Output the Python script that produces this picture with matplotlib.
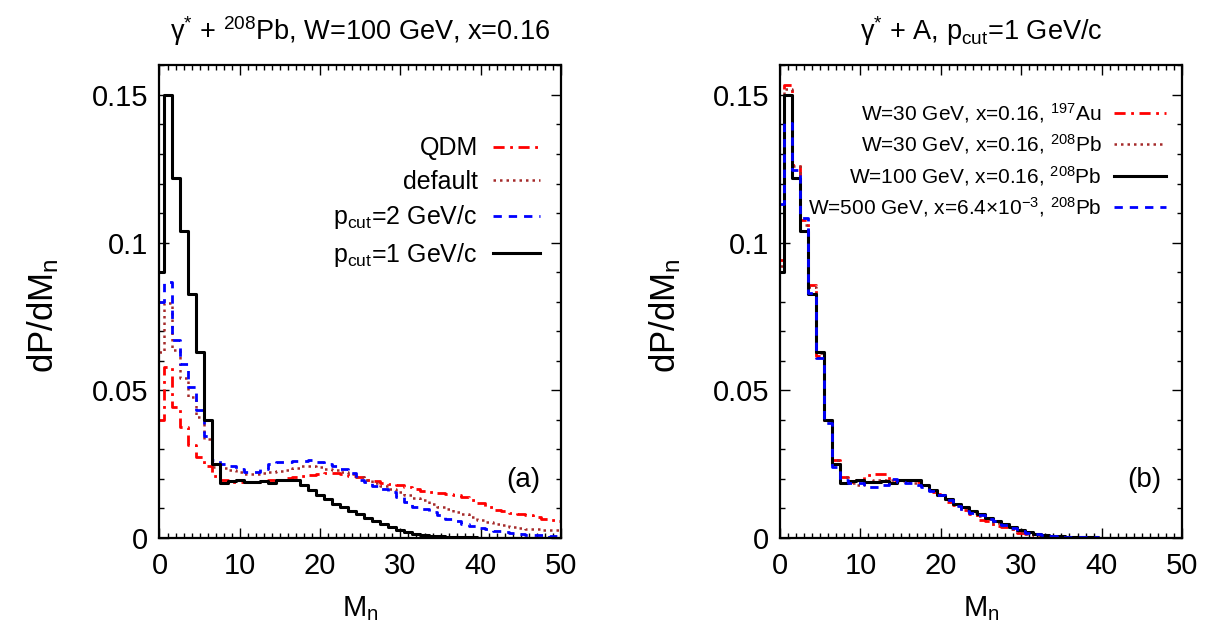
import numpy as np
import matplotlib
matplotlib.use("Agg")
import matplotlib.pyplot as plt
from matplotlib.ticker import MultipleLocator

plt.rcParams['font.family'] = ['Liberation Sans', 'DejaVu Sans']
plt.rcParams['mathtext.fontset'] = 'custom'
plt.rcParams['mathtext.rm'] = 'Liberation Sans'
plt.rcParams['mathtext.it'] = 'Liberation Sans'
plt.rcParams['mathtext.default'] = 'rm'

# neutron multiplicity M_n = 0..50
mn = np.arange(51)

# panel (a): gamma* + 208Pb, W=100 GeV, x=0.16
qdm = [0.040, 0.058, 0.0445, 0.0377, 0.0315, 0.0275, 0.0245, 0.021, 0.0197, 0.019,
       0.019, 0.019, 0.019, 0.0192, 0.0195, 0.0198, 0.0202, 0.0206, 0.021, 0.0213,
       0.0218, 0.022, 0.022, 0.0218, 0.021, 0.0205, 0.0198, 0.0192, 0.0187, 0.0183,
       0.018, 0.0172, 0.0165, 0.016, 0.0155, 0.0152, 0.015, 0.0145, 0.014, 0.0128,
       0.012, 0.0105, 0.0096, 0.009, 0.0085, 0.0082, 0.0078, 0.0072, 0.0065, 0.006, 0.0058]
default = [0.063, 0.0795, 0.0636, 0.054, 0.0478, 0.041, 0.0335, 0.0241, 0.0238, 0.023,
           0.0225, 0.0216, 0.0218, 0.022, 0.0224, 0.0226, 0.023, 0.0237, 0.0243, 0.0244,
           0.0241, 0.0235, 0.023, 0.0222, 0.0215, 0.0207, 0.0198, 0.0187, 0.0175, 0.0165,
           0.0155, 0.0145, 0.0135, 0.0127, 0.0115, 0.0106, 0.0097, 0.0088, 0.008, 0.0072,
           0.0062, 0.0055, 0.0049, 0.0045, 0.0038, 0.0034, 0.0031, 0.003, 0.0028, 0.0027, 0.0026]
pcut2 = [0.080, 0.0865, 0.067, 0.059, 0.0512, 0.0433, 0.0345, 0.0264, 0.0250, 0.0245,
         0.0232, 0.0225, 0.0225, 0.0233, 0.0250, 0.0256, 0.0258, 0.026, 0.0262, 0.0264,
         0.0258, 0.0252, 0.0245, 0.0232, 0.0219, 0.0198, 0.0188, 0.0175, 0.0165, 0.0155,
         0.014, 0.0122, 0.0106, 0.0098, 0.0088, 0.0078, 0.0066, 0.0057, 0.0046, 0.004,
         0.0033, 0.0029, 0.0025, 0.0021, 0.0016, 0.0012, 0.0011, 0.001, 0.0009, 0.0008, 0.0008]
pcut1 = [0.090, 0.150, 0.122, 0.104, 0.0825, 0.063, 0.040, 0.025, 0.0187, 0.0192,
         0.0197, 0.0188, 0.0190, 0.0192, 0.0187, 0.0198, 0.0195, 0.0196, 0.0179, 0.0163,
         0.0147, 0.0131, 0.0116, 0.0104, 0.0092, 0.0082, 0.0069, 0.0057, 0.0046, 0.0036,
         0.0027, 0.0019, 0.0014, 0.0011, 0.0008, 0.0006, 0.0004, 0.0003, 0.0002, 0.0002,
         0.0001, 0.0001, 0.0001, 0.0001, 0.0, 0.0, 0.0, 0.0, 0.0, 0.0, 0.0]

# panel (b): gamma* + A, p_cut=1 GeV/c
au_w30 = [0.094, 0.1533, 0.1263, 0.1077, 0.0857, 0.0616, 0.040, 0.0264, 0.0205, 0.019,
          0.0195, 0.0212, 0.0217, 0.0216, 0.0198, 0.0196, 0.0195, 0.019, 0.018, 0.0157,
          0.015, 0.0123, 0.0112, 0.0095, 0.0080, 0.0062, 0.0058, 0.0040, 0.0037, 0.0030,
          0.0018, 0.0014, 0.001, 0.0007, 0.0005, 0.0004, 0.0003, 0.0002, 0.0002, 0.0001,
          0.0001, 0.0001, 0.0, 0.0, 0.0, 0.0, 0.0, 0.0, 0.0, 0.0, 0.0]
pb_w30 = [0.092, 0.152, 0.126, 0.106, 0.085, 0.0625, 0.040, 0.0265, 0.0205, 0.0185,
          0.018, 0.019, 0.0198, 0.0198, 0.0195, 0.0193, 0.019, 0.0186, 0.018, 0.016,
          0.0145, 0.013, 0.0113, 0.0098, 0.0086, 0.0075, 0.0063, 0.0052, 0.004, 0.003,
          0.0022, 0.0015, 0.0011, 0.0008, 0.0006, 0.0004, 0.0003, 0.0002, 0.0002, 0.0001,
          0.0001, 0.0001, 0.0, 0.0, 0.0, 0.0, 0.0, 0.0, 0.0, 0.0, 0.0]
pb_w100 = pcut1
pb_w500 = [0.113, 0.1405, 0.1246, 0.1083, 0.083, 0.061, 0.039, 0.024, 0.0196, 0.0185,
           0.0185, 0.0174, 0.0174, 0.018, 0.0199, 0.019, 0.0185, 0.018, 0.0174, 0.016,
           0.0146, 0.0129, 0.011, 0.0091, 0.0085, 0.0078, 0.0066, 0.0058, 0.0045, 0.0033,
           0.0025, 0.0018, 0.0013, 0.0009, 0.0007, 0.0005, 0.0004, 0.0003, 0.0002, 0.0002,
           0.0001, 0.0001, 0.0001, 0.0, 0.0, 0.0, 0.0, 0.0, 0.0, 0.0, 0.0]

labels_a = ['QDM', 'default', r'p$_{cut}$=2 GeV/c', r'p$_{cut}$=1 GeV/c']
labels_b = [r'W=30 GeV, x=0.16, $^{197}$Au', r'W=30 GeV, x=0.16, $^{208}$Pb',
            r'W=100 GeV, x=0.16, $^{208}$Pb', r'W=500 GeV, x=6.4×10$^{-3}$, $^{208}$Pb']

yticks = [0, 0.05, 0.1, 0.15]
yticklabels = ['0', '0.05', '0.1', '0.15']
xticks = [0, 10, 20, 30, 40, 50]

red = dict(color='#ff0000', lw=2.0, dashes=(4, 2, 1, 2))
brown = dict(color='#a52a2a', lw=1.8, dashes=(1, 1.6))
blue = dict(color='#0000ff', lw=2.0, dashes=(3, 2.5))
black = dict(color='black', lw=2.2)

fig = plt.figure(figsize=(12.12, 6.25), dpi=100)
ax1 = fig.add_axes([0.1316, 0.1392, 0.3313, 0.7562])
ax2 = fig.add_axes([0.6436, 0.1392, 0.3317, 0.7562])


def setup(ax, title, ylab_x):
    ax.set_xlim(0, 50)
    ax.set_ylim(0, 0.16)
    ax.set_xticks(xticks)
    ax.set_yticks(yticks, yticklabels)
    ax.xaxis.set_minor_locator(MultipleLocator(1))
    ax.yaxis.set_minor_locator(MultipleLocator(0.01))
    ax.tick_params(which='both', direction='in', top=True, right=True, labelsize=21)
    ax.tick_params(which='major', length=7, width=1.0)
    ax.tick_params(axis='x', which='major', pad=10)
    ax.tick_params(axis='y', which='major', pad=8)
    ax.tick_params(which='minor', length=3.5, width=1.0)
    for s in ax.spines.values():
        s.set_linewidth(1.6)
    ax.set_xlabel(r'M$_n$', fontsize=21, labelpad=10)
    ax.set_ylabel(r'dP/dM$_n$', fontsize=25, va='center')
    ax.yaxis.set_label_coords(ylab_x, 0.47)
    ax.set_title(title, fontsize=19.5, pad=18)


for vals, lab, st in zip([qdm, default, pcut2, pcut1], labels_a, [red, brown, blue, black]):
    ax1.step(mn, vals, where='mid', label=lab, **st)
setup(ax1, r'γ$^{*}$ + $^{208}$Pb, W=100 GeV, x=0.16', -0.29)
ax1.legend(loc='upper right', bbox_to_anchor=(0.948, 0.85), frameon=False,
           markerfirst=False, fontsize=18, handlelength=1.9, handletextpad=0.6,
           labelspacing=0.38, borderpad=0, borderaxespad=0)
ax1.text(0.907, 0.123, '(a)', transform=ax1.transAxes, fontsize=20, ha='center', va='center')

for vals, lab, st in zip([au_w30, pb_w30, pb_w100, pb_w500], labels_b, [red, brown, black, blue]):
    ax2.step(mn, vals, where='mid', label=lab, **st)
setup(ax2, r'γ$^{*}$ + A, p$_{cut}$=1 GeV/c', -0.285)
ax2.legend(loc='upper right', bbox_to_anchor=(0.96, 0.924), frameon=False,
           markerfirst=False, fontsize=15, handlelength=2.5, handletextpad=0.6,
           labelspacing=0.35, borderpad=0, borderaxespad=0)
ax2.text(0.907, 0.123, '(b)', transform=ax2.transAxes, fontsize=20, ha='center', va='center')

fig.savefig('out.png', dpi=100)
